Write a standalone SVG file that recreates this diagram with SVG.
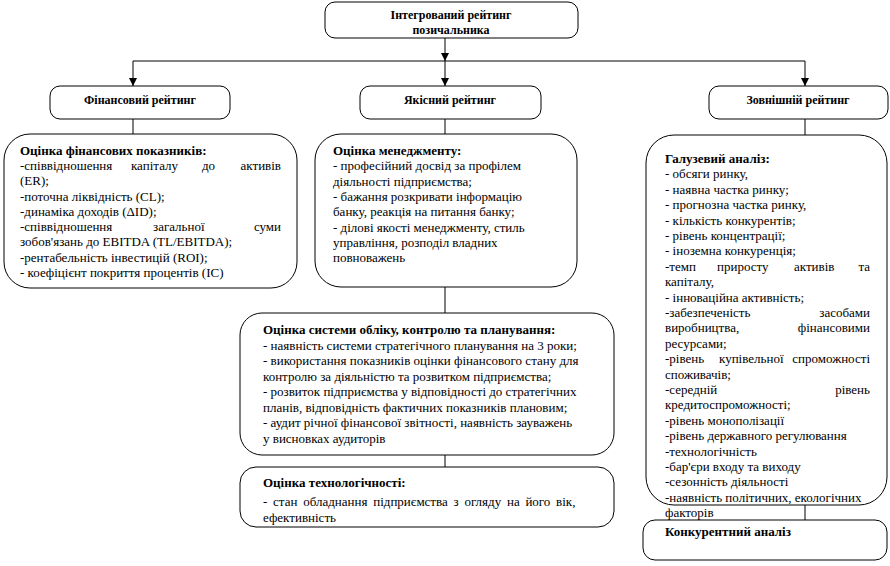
<svg xmlns="http://www.w3.org/2000/svg" width="890" height="566" viewBox="0 0 890 566">
<style>
.b{fill:#fff;stroke:#000;stroke-width:1}
.t{font-family:"Liberation Serif","Times New Roman",serif;font-size:13px;fill:#000}
.e{text-anchor:end}
.h{font-family:"Liberation Serif","Times New Roman",serif;font-size:13px;font-weight:bold;fill:#000}
.c{font-family:"Liberation Serif","Times New Roman",serif;font-size:12px;font-weight:bold;fill:#000;text-anchor:middle}
.l{stroke:#000;stroke-width:1;fill:none}
</style>
<defs>
<marker id="ar" markerWidth="8" markerHeight="10" refX="8" refY="4" orient="auto" markerUnits="userSpaceOnUse">
<path d="M0,0 L8,4 L0,8 Z" fill="#000"/>
</marker>
</defs>
<rect width="890" height="566" fill="#fff"/>
<g id="connectors">
<line class="l" x1="445" y1="38" x2="445" y2="61" marker-end="url(#ar)"/>
<line class="l" x1="133" y1="61" x2="805" y2="61"/>
<line class="l" x1="133" y1="61" x2="133" y2="86" marker-end="url(#ar)"/>
<line class="l" x1="445" y1="61" x2="445" y2="86" marker-end="url(#ar)"/>
<line class="l" x1="805" y1="61" x2="805" y2="86" marker-end="url(#ar)"/>
<line class="l" x1="133" y1="119" x2="133" y2="134"/>
<line class="l" x1="445" y1="119" x2="445" y2="134"/>
<line class="l" x1="805" y1="119" x2="805" y2="135"/>
<line class="l" x1="445" y1="287" x2="445" y2="313"/>
<line class="l" x1="445" y1="455" x2="445" y2="467"/>
<line class="l" x1="805" y1="505" x2="805" y2="520"/>
</g>
<g id="top">
<rect class="b" x="325" y="2" width="253" height="36" rx="10"/>
<text class="c" x="451" y="19">Інтегрований рейтинг</text>
<text class="c" x="451" y="34">позичальника</text>
</g>
<g id="fin">
<rect class="b" x="50" y="86" width="180" height="33" rx="10"/>
<text class="c" x="140" y="104">Фінансовий рейтинг</text>
</g>
<g id="qual">
<rect class="b" x="360" y="86" width="181" height="33" rx="10"/>
<text class="c" x="450" y="104">Якісний рейтинг</text>
</g>
<g id="ext">
<rect class="b" x="709" y="86" width="179" height="33" rx="10"/>
<text class="c" x="798" y="104">Зовнішній рейтинг</text>
</g>
<g id="finind">
<rect class="b" x="4" y="134" width="293" height="154" rx="26"/>
<text class="h" x="20" y="155">Оцінка фінансових показників:</text>
<text class="t" x="20" y="170">-співвідношення</text>
<text class="t" x="131" y="170">капіталу</text>
<text class="t" x="202" y="170">до</text>
<text class="t e" x="281" y="170">активів</text>
<text class="t" x="20" y="185">(ER);</text>
<text class="t" x="20" y="201">-поточна ліквідність (CL);</text>
<text class="t" x="20" y="216">-динаміка доходів (ΔID);</text>
<text class="t" x="20" y="231">-співвідношення</text>
<text class="t" x="153" y="231">загальної</text>
<text class="t e" x="281" y="231">суми</text>
<text class="t" x="20" y="246">зобов'язань до EBITDA (TL/EBITDA);</text>
<text class="t" x="20" y="262">-рентабельність інвестицій (ROI);</text>
<text class="t" x="20" y="277">- коефіцієнт покриття процентів (IC)</text>
</g>
<g id="mgmt">
<rect class="b" x="315" y="134" width="262" height="153" rx="26"/>
<text class="h" x="333" y="155">Оцінка менеджменту:</text>
<text class="t" x="333" y="170">- професійний досвід за профілем</text>
<text class="t" x="333" y="186">діяльності підприємства;</text>
<text class="t" x="333" y="201">- бажання розкривати інформацію</text>
<text class="t" x="333" y="216">банку, реакція на питання банку;</text>
<text class="t" x="333" y="232">- ділові якості менеджменту, стиль</text>
<text class="t" x="333" y="247">управління, розподіл владних</text>
<text class="t" x="333" y="262">повноважень</text>
</g>
<g id="system">
<rect class="b" x="240" y="313" width="374" height="142" rx="22"/>
<text class="h" x="263" y="334">Оцінка системи обліку, контролю та планування:</text>
<text class="t" x="263" y="350">- наявність системи стратегічного планування на 3 роки;</text>
<text class="t" x="263" y="365">- використання показників оцінки фінансового стану для</text>
<text class="t" x="263" y="381">контролю за діяльністю та розвитком підприємства;</text>
<text class="t" x="263" y="396">- розвиток підприємства у відповідності до стратегічних</text>
<text class="t" x="263" y="412">планів, відповідність фактичних показників плановим;</text>
<text class="t" x="263" y="427">- аудит річної фінансової звітності, наявність зауважень</text>
<text class="t" x="263" y="443">у висновках аудиторів</text>
</g>
<g id="tech">
<rect class="b" x="240" y="467" width="374" height="60" rx="16"/>
<text class="h" x="263" y="487">Оцінка технологічності:</text>
<text class="t" x="263" y="506" style="word-spacing:2.5px">- стан обладнання підприємства з огляду на його вік,</text>
<text class="t" x="263" y="522">ефективність</text>
</g>
<g id="industry">
<rect class="b" x="646" y="135" width="241" height="370" rx="28"/>
<text class="h" x="665" y="163">Галузевий аналіз:</text>
<text class="t" x="665" y="178">- обсяги ринку,</text>
<text class="t" x="665" y="194">- наявна частка ринку;</text>
<text class="t" x="665" y="209">- прогнозна частка ринку,</text>
<text class="t" x="665" y="225">- кількість конкурентів;</text>
<text class="t" x="665" y="240">- рівень концентрації;</text>
<text class="t" x="665" y="255">- іноземна конкуренція;</text>
<text class="t" x="665" y="271">-темп</text>
<text class="t" x="717" y="271">приросту</text>
<text class="t" x="794" y="271">активів</text>
<text class="t e" x="870" y="271">та</text>
<text class="t" x="665" y="286">капіталу,</text>
<text class="t" x="665" y="302">- інноваційна активність;</text>
<text class="t" x="665" y="317">-забезпеченість</text>
<text class="t e" x="870" y="317">засобами</text>
<text class="t" x="665" y="332">виробництва,</text>
<text class="t e" x="870" y="332">фінансовими</text>
<text class="t" x="665" y="348">ресурсами;</text>
<text class="t" x="665" y="363">-рівень</text>
<text class="t" x="719" y="363">купівельної</text>
<text class="t e" x="870" y="363">спроможності</text>
<text class="t" x="665" y="379">споживачів;</text>
<text class="t" x="665" y="394">-середній</text>
<text class="t e" x="870" y="394">рівень</text>
<text class="t" x="665" y="409">кредитоспроможності;</text>
<text class="t" x="665" y="425">-рівень монополізації</text>
<text class="t" x="665" y="440">-рівень державного регулювання</text>
<text class="t" x="665" y="456">-технологічність</text>
<text class="t" x="665" y="471">-бар'єри входу та виходу</text>
<text class="t" x="665" y="486">-сезонність діяльності</text>
<text class="t" x="665" y="502">-наявність політичних, екологічних</text>
<text class="t" x="665" y="517">факторів</text>
</g>
<g id="competitive">
<rect class="b" x="643" y="520" width="244" height="40" rx="12"/>
<text class="h" x="665" y="536">Конкурентний аналіз</text>
</g>
</svg>
